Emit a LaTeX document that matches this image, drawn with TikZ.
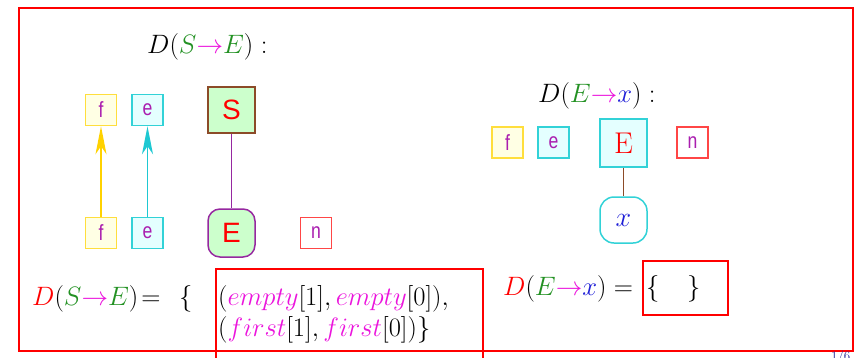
\RequirePackage{fix-cm}
\documentclass[tikz,border=0pt]{standalone}
\usepackage{fontspec}
\usetikzlibrary{arrows.meta}
\newfontfamily\labelfont[FakeStretch=0.8]{Liberation Sans}
\newfontfamily\bigsans{Liberation Sans}

\definecolor{ybord}{RGB}{255,222,60}
\definecolor{yfill}{RGB}{255,255,228}
\definecolor{yarrow}{RGB}{255,210,0}
\definecolor{cbord}{RGB}{50,210,215}
\definecolor{cfill}{RGB}{228,255,255}
\definecolor{carrow}{RGB}{30,200,210}
\definecolor{gfill}{RGB}{204,255,204}
\definecolor{brownb}{RGB}{140,75,40}
\definecolor{purpb}{RGB}{150,40,160}
\definecolor{nred}{RGB}{255,70,70}
\definecolor{labcol}{RGB}{170,30,175}
\definecolor{mgreen}{RGB}{35,145,35}
\definecolor{mmag}{RGB}{235,20,220}
\definecolor{mblue}{RGB}{30,30,215}
\definecolor{pagecol}{RGB}{40,40,150}

\newcommand{\gS}{{\color{mgreen}S}}
\newcommand{\gE}{{\color{mgreen}E}}
\newcommand{\marr}{{\color{mmag}\rightarrow}}
\newcommand{\mx}{{\color{mblue}x}}
\newcommand{\mg}[1]{{\color{mmag}#1}}

\begin{document}
\begin{tikzpicture}[x=1pt,y=-1pt,
  smallbox/.style={draw, line width=1.5pt, minimum width=31pt, minimum height=31pt,
    inner sep=0pt, font=\labelfont\fontsize{22}{22}\selectfont, text=labcol},
  yellowbox/.style={smallbox, draw=ybord, fill=yfill},
  cyanbox/.style={smallbox, draw=cbord, fill=cfill},
  redbox/.style={smallbox, draw=nred, fill=white},
  bigbox/.style={draw, line width=1.5pt, minimum width=47pt, minimum height=46pt,
    inner sep=0pt, text=red},
  mtext/.style={font=\fontsize{26.6}{32}\selectfont, inner sep=0pt},
  upline/.style={line width=1.6pt, -{Stealth[length=28pt,width=11pt,inset=8pt]}},
  frame/.style={draw=red, line width=2pt}
]
\useasboundingbox (0,0) rectangle (855,357);
\clip (0,0) rectangle (855,357);

% outer frame
\draw[frame] (19,8) rectangle (853,351);

% ---- left tree: D(S -> E)
\node[mtext, anchor=base west] (t1) at (147,53) {$D(\gS\marr\gE)\;{:}$};

\node[yellowbox] (ftop) at (101,110) {f};
\node[cyanbox] (etop) at (147.5,110) {e};
\node[bigbox, draw=brownb, fill=gfill, font=\bigsans\fontsize{28}{28}\selectfont] (S) at (231.5,110) {S};

\node[yellowbox] (fbot) at (101,233) {f};
\node[cyanbox] (ebot) at (147.5,233) {e};
\node[bigbox, draw=purpb, fill=gfill, rounded corners=12pt, minimum height=48pt,
  font=\bigsans\fontsize{28}{28}\selectfont] (E) at (231.5,233) {E};
\node[redbox] (nbot) at (316,233) {n};

\draw[upline, draw=yarrow, fill=yarrow] (fbot) -- (ftop);
\draw[upline, draw=carrow, fill=carrow] (ebot) -- (etop);
\draw[purpb, line width=1.6pt] (S) -- (E);

% ---- right tree: D(E -> x)
\node[mtext, anchor=base west] (t2) at (538,102) {$D(\gE\marr\mx)\;{:}$};

\node[yellowbox] (rf) at (507.5,142.5) {f};
\node[cyanbox] (re) at (553.5,142.5) {e};
\node[bigbox, draw=cbord, fill=cfill, minimum height=48pt,
  font=\fontsize{30}{30}\selectfont] (rE) at (623.5,143) {E};
\node[redbox] (rn) at (692.5,142.5) {n};
\node[bigbox, draw=cbord, fill=white, rounded corners=14pt,
  font=\fontsize{28}{28}\selectfont] (rx) at (623.5,220) {$\mx$};
\draw[brownb, line width=1.6pt] (rE) -- (rx);

% ---- dependency sets
\node[mtext, anchor=base west] (d1) at (32,305) {${\color{red}D}(\gS\marr\gE)\mkern2mu{=}$};
\node[mtext, anchor=base west] (b1) at (179,305) {$\{$};
\draw[frame] (216,269) rectangle (483,380);
\node[mtext, anchor=base west] (l1) at (218,305)
  {$(\mg{empty}[1],\mg{empty}[0]),$};
\node[mtext, anchor=base west] (l2) at (218,336)
  {$(\mg{first}[1],\mg{first}[0])\}$};

\node[mtext, anchor=base west] (d2) at (503,295) {${\color{red}D}(\gE\marr\mx) =$};
\draw[frame] (643,261) rectangle (728,315);
\node[mtext, anchor=base west] (b2) at (646,295) {$\{$};
\node[mtext, anchor=base west] (b3) at (687,295) {$\}$};

% page number
\node[anchor=north west, inner sep=0pt, text=pagecol,
  font=\fontsize{13}{13}\selectfont] (pg) at (831,351) {1/6};
\end{tikzpicture}
\end{document}
